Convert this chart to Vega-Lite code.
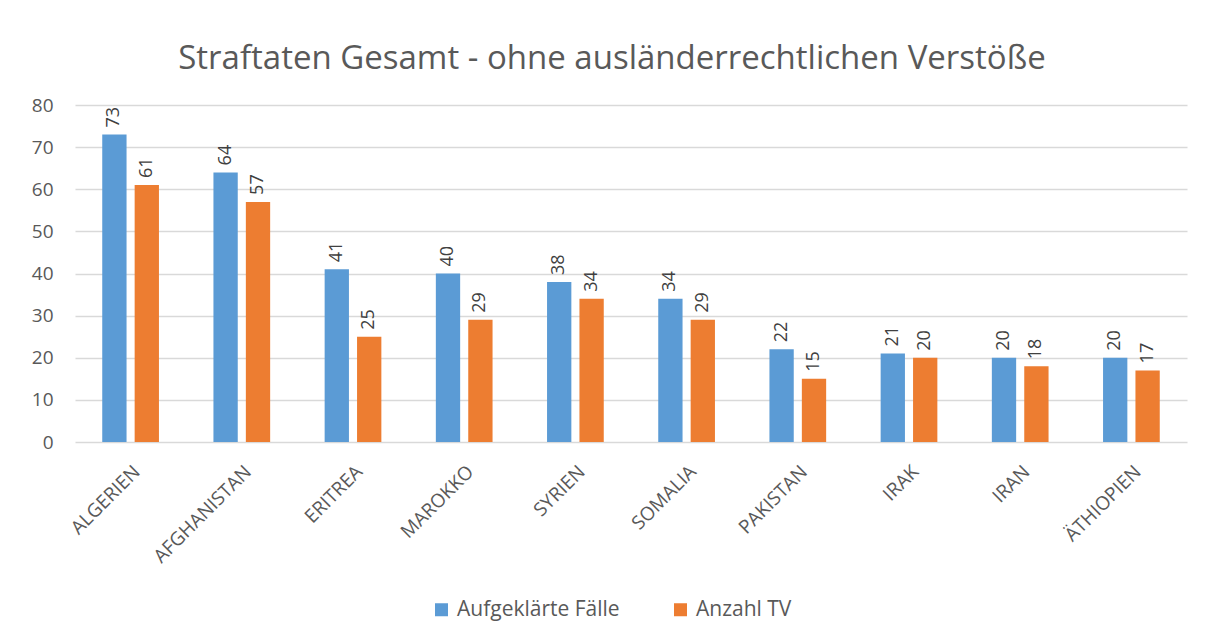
{
  "$schema": "https://vega.github.io/schema/vega-lite/v6.json",
  "autosize": {"type": "none"},
  "width": 1112,
  "height": 337,
  "padding": {"left": 75, "top": 105, "right": 25, "bottom": 197},
  "background": "white",
  "title": {
    "text": "Straftaten Gesamt - ohne ausländerrechtlichen Verstöße",
    "font": "Open Sans",
    "fontSize": 33,
    "fontWeight": "normal",
    "color": "#595959",
    "anchor": "middle",
    "dx": -19,
    "offset": 20
  },
  "data": {
    "values": [
      {"land": "ALGERIEN", "serie": "Aufgeklärte Fälle", "wert": 73},
      {"land": "ALGERIEN", "serie": "Anzahl TV", "wert": 61},
      {"land": "AFGHANISTAN", "serie": "Aufgeklärte Fälle", "wert": 64},
      {"land": "AFGHANISTAN", "serie": "Anzahl TV", "wert": 57},
      {"land": "ERITREA", "serie": "Aufgeklärte Fälle", "wert": 41},
      {"land": "ERITREA", "serie": "Anzahl TV", "wert": 25},
      {"land": "MAROKKO", "serie": "Aufgeklärte Fälle", "wert": 40},
      {"land": "MAROKKO", "serie": "Anzahl TV", "wert": 29},
      {"land": "SYRIEN", "serie": "Aufgeklärte Fälle", "wert": 38},
      {"land": "SYRIEN", "serie": "Anzahl TV", "wert": 34},
      {"land": "SOMALIA", "serie": "Aufgeklärte Fälle", "wert": 34},
      {"land": "SOMALIA", "serie": "Anzahl TV", "wert": 29},
      {"land": "PAKISTAN", "serie": "Aufgeklärte Fälle", "wert": 22},
      {"land": "PAKISTAN", "serie": "Anzahl TV", "wert": 15},
      {"land": "IRAK", "serie": "Aufgeklärte Fälle", "wert": 21},
      {"land": "IRAK", "serie": "Anzahl TV", "wert": 20},
      {"land": "IRAN", "serie": "Aufgeklärte Fälle", "wert": 20},
      {"land": "IRAN", "serie": "Anzahl TV", "wert": 18},
      {"land": "ÄTHIOPIEN", "serie": "Aufgeklärte Fälle", "wert": 20},
      {"land": "ÄTHIOPIEN", "serie": "Anzahl TV", "wert": 17}
    ]
  },
  "encoding": {
    "x": {
      "field": "land",
      "type": "nominal",
      "sort": null,
      "title": null,
      "scale": {"paddingInner": 0.49, "paddingOuter": 0.245},
      "axis": {
        "labelAngle": -45,
        "labelAlign": "right",
        "labelBaseline": "top",
        "labelPadding": 20,
        "labelFont": "Open Sans",
        "labelFontSize": 19,
        "labelColor": "#595959",
        "labelLimit": 300,
        "ticks": false,
        "domain": false,
        "grid": false
      }
    },
    "xOffset": {
      "field": "serie",
      "type": "nominal",
      "sort": ["Aufgeklärte Fälle", "Anzahl TV"],
      "scale": {"paddingInner": 0.25, "paddingOuter": 0}
    },
    "y": {
      "field": "wert",
      "type": "quantitative",
      "title": null,
      "scale": {"domain": [0, 80], "nice": false},
      "axis": {
        "values": [0, 10, 20, 30, 40, 50, 60, 70, 80],
        "labelFont": "Open Sans",
        "labelFontSize": 19,
        "labelColor": "#595959",
        "labelPadding": 22,
        "ticks": false,
        "domain": false,
        "gridColor": "#D9D9D9",
        "gridWidth": 1.3
      }
    },
    "color": {
      "field": "serie",
      "type": "nominal",
      "sort": ["Aufgeklärte Fälle", "Anzahl TV"],
      "scale": {"domain": ["Aufgeklärte Fälle", "Anzahl TV"], "range": ["#5B9BD5", "#ED7D31"]},
      "legend": {
        "title": null,
        "orient": "none",
        "direction": "horizontal",
        "legendX": 356,
        "legendY": 494,
        "symbolType": "square",
        "symbolSize": 169,
        "symbolStrokeWidth": 0,
        "labelFont": "Open Sans",
        "labelFontSize": 21,
        "labelColor": "#595959",
        "labelOffset": 5,
        "labelLimit": 400,
        "columnPadding": 50
      }
    }
  },
  "layer": [
    {"mark": {"type": "bar"}},
    {
      "mark": {
        "type": "text",
        "angle": 270,
        "align": "left",
        "baseline": "middle",
        "dx": 7,
        "font": "Open Sans",
        "fontSize": 18,
        "color": "#404040"
      },
      "encoding": {
        "text": {"field": "wert", "type": "quantitative"},
        "color": {"value": "#404040"}
      }
    }
  ],
  "config": {
    "view": {"stroke": null}
  }
}
